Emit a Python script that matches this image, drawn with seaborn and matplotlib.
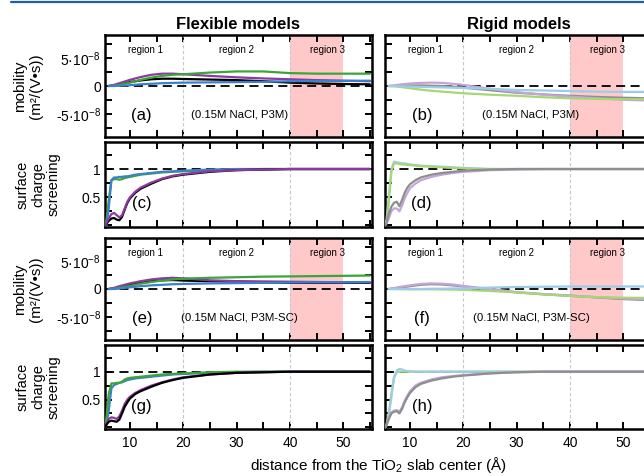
"""Mobility and surface charge screening vs distance from the TiO2 slab."""

import matplotlib
matplotlib.use("Agg")
import matplotlib.pyplot as plt
from matplotlib.lines import Line2D
from matplotlib.ticker import MultipleLocator
import seaborn as sns
import pandas as pd

# ---- data ----
# mobility in units of 1e-8 m^2/(V s)
X_MOB = [6, 7, 8, 10, 12, 14, 16, 18, 20, 25, 30, 35, 40, 45, 50, 55]

mob_a = {
    "black": [0, 0.1, 0.3, 0.7, 1.0, 1.2, 1.3, 1.3, 1.25, 1.15, 1.05, 0.85, 0.6, 0.45, 0.35, 0.3],
    "purple": [0, 0.2, 0.5, 1.1, 1.6, 2.0, 2.2, 2.2, 2.1, 1.8, 1.55, 1.35, 1.2, 1.05, 0.95, 0.85],
    "green": [0, 0.05, 0.2, 0.6, 1.1, 1.5, 1.8, 2.0, 2.1, 2.4, 2.6, 2.6, 2.3, 2.2, 2.2, 2.2],
    "blue": [0, 0, 0.05, 0.15, 0.3, 0.4, 0.5, 0.55, 0.6, 0.65, 0.7, 0.75, 0.85, 0.9, 0.9, 0.95],
}
mob_b = {
    "gray": [0, 0.02, 0.05, 0.1, 0.1, 0.05, 0, -0.1, -0.3, -0.75, -1.2, -1.5, -1.75, -1.95, -2.1, -2.2],
    "lpurple": [0, 0.1, 0.25, 0.45, 0.55, 0.6, 0.55, 0.4, 0.2, -0.5, -1.1, -1.55, -1.9, -2.2, -2.45, -2.6],
    "lgreen": [0, -0.05, -0.15, -0.4, -0.65, -0.85, -1.0, -1.15, -1.3, -1.55, -1.75, -2.0, -2.2, -2.3, -2.35, -2.35],
    "lblue": [0, 0, -0.05, -0.1, -0.15, -0.2, -0.25, -0.3, -0.35, -0.5, -0.7, -0.8, -0.9, -1.0, -1.05, -1.05],
}
mob_e = {
    "black": [0, 0.1, 0.3, 0.8, 1.1, 1.4, 1.55, 1.6, 1.5, 1.4, 1.3, 1.2, 1.1, 1.1, 1.1, 1.1],
    "purple": [0, 0.2, 0.5, 1.0, 1.4, 1.7, 1.9, 2.0, 1.9, 1.55, 1.4, 1.35, 1.3, 1.25, 1.2, 1.2],
    "green": [0, 0.05, 0.2, 0.55, 0.95, 1.25, 1.5, 1.7, 1.85, 2.0, 2.1, 2.2, 2.25, 2.3, 2.35, 2.4],
    "blue": [0, 0, 0.1, 0.3, 0.5, 0.65, 0.75, 0.85, 0.9, 1.0, 1.05, 1.1, 1.15, 1.2, 1.2, 1.25],
}
mob_f = {
    "gray": [0, 0.1, 0.25, 0.5, 0.75, 0.85, 0.8, 0.65, 0.45, -0.1, -0.6, -0.95, -1.2, -1.5, -1.8, -2.0],
    "lpurple": [0, 0.15, 0.35, 0.65, 0.9, 1.0, 0.95, 0.8, 0.55, 0, -0.55, -0.9, -1.15, -1.45, -1.7, -1.9],
    "lgreen": [0, 0, -0.02, -0.05, -0.05, -0.05, -0.08, -0.1, -0.15, -0.35, -0.6, -0.95, -1.25, -1.45, -1.55, -1.6],
    "lblue": [0, 0, 0, 0, 0, 0.05, 0.05, 0.1, 0.1, 0.25, 0.35, 0.4, 0.45, 0.45, 0.45, 0.45],
}

# surface charge screening
X_SCR = [5.3, 5.6, 6, 6.5, 7, 7.5, 8, 8.5, 9, 9.5, 10, 11, 12, 14, 16, 18, 20, 25, 30, 35, 40, 45, 50, 55]

scr_c = {
    "green": [0, 0.1, 0.45, 0.8, 0.82, 0.82, 0.81, 0.82, 0.84, 0.85, 0.86, 0.88, 0.9, 0.92, 0.94, 0.95, 0.96, 0.98, 0.99, 1.0, 1.0, 1.0, 1.0, 1.0],
    "blue": [0, 0, 0.3, 0.8, 0.85, 0.85, 0.86, 0.86, 0.87, 0.87, 0.88, 0.9, 0.91, 0.93, 0.95, 0.96, 0.97, 0.99, 1.0, 1.0, 1.0, 1.0, 1.0, 1.0],
    "black": [0, 0.03, 0.08, 0.12, 0.13, 0.1, 0.09, 0.15, 0.28, 0.4, 0.48, 0.58, 0.65, 0.74, 0.82, 0.87, 0.9, 0.95, 0.98, 0.99, 1.0, 1.0, 1.0, 1.0],
    "purple": [0, 0.05, 0.12, 0.2, 0.22, 0.18, 0.14, 0.18, 0.3, 0.42, 0.5, 0.6, 0.67, 0.76, 0.83, 0.88, 0.91, 0.96, 0.98, 0.99, 1.0, 1.0, 1.0, 1.0],
}
scr_d = {
    "lblue": [0, 0.1, 0.5, 1.0, 1.13, 1.12, 1.11, 1.1, 1.1, 1.09, 1.08, 1.07, 1.06, 1.05, 1.04, 1.03, 1.02, 1.0, 1.0, 1.0, 1.0, 1.0, 1.0, 1.0],
    "lgreen": [0, 0.05, 0.4, 0.95, 1.1, 1.1, 1.09, 1.08, 1.08, 1.07, 1.07, 1.06, 1.05, 1.04, 1.03, 1.02, 1.01, 1.0, 1.0, 1.0, 1.0, 1.0, 1.0, 1.0],
    "lpurple": [0, 0.03, 0.12, 0.25, 0.3, 0.3, 0.25, 0.35, 0.48, 0.58, 0.66, 0.74, 0.8, 0.86, 0.9, 0.93, 0.95, 0.98, 0.99, 1.0, 1.0, 1.0, 1.0, 1.0],
    "gray": [0, 0.05, 0.2, 0.33, 0.4, 0.42, 0.34, 0.45, 0.58, 0.67, 0.73, 0.8, 0.85, 0.9, 0.93, 0.95, 0.97, 0.99, 1.0, 1.0, 1.0, 1.0, 1.0, 1.0],
}
scr_g = {
    "blue": [0, 0.05, 0.3, 0.7, 0.76, 0.78, 0.8, 0.81, 0.83, 0.85, 0.86, 0.88, 0.89, 0.91, 0.93, 0.95, 0.96, 0.98, 0.99, 1.0, 1.0, 1.0, 1.0, 1.0],
    "green": [0, 0.2, 0.6, 0.79, 0.79, 0.8, 0.8, 0.82, 0.86, 0.88, 0.89, 0.9, 0.91, 0.93, 0.95, 0.96, 0.97, 0.99, 1.0, 1.0, 1.0, 1.0, 1.0, 1.0],
    "purple": [0, 0.08, 0.15, 0.18, 0.17, 0.15, 0.2, 0.3, 0.42, 0.5, 0.55, 0.62, 0.67, 0.75, 0.81, 0.86, 0.9, 0.95, 0.98, 0.99, 1.0, 1.0, 1.0, 1.0],
    "black": [0, 0.05, 0.1, 0.12, 0.11, 0.1, 0.14, 0.25, 0.37, 0.45, 0.52, 0.6, 0.65, 0.73, 0.8, 0.85, 0.89, 0.95, 0.98, 0.99, 1.0, 1.0, 1.0, 1.0],
}
scr_h = {
    "lgreen": [0, 0.05, 0.25, 0.6, 0.9, 0.99, 1.0, 1.0, 1.0, 1.0, 1.0, 1.0, 1.0, 1.0, 1.0, 1.0, 1.0, 1.0, 1.0, 1.0, 1.0, 1.0, 1.0, 1.0],
    "lblue": [0, 0.03, 0.2, 0.55, 0.9, 1.02, 1.05, 1.04, 1.02, 1.01, 1.01, 1.0, 1.0, 1.0, 1.0, 1.0, 1.0, 1.0, 1.0, 1.0, 1.0, 1.0, 1.0, 1.0],
    "lpurple": [0, 0.05, 0.15, 0.27, 0.3, 0.31, 0.28, 0.36, 0.48, 0.57, 0.65, 0.75, 0.8, 0.86, 0.9, 0.92, 0.94, 0.97, 0.99, 1.0, 1.0, 1.0, 1.0, 1.0],
    "gray": [0, 0.05, 0.15, 0.25, 0.28, 0.29, 0.25, 0.33, 0.45, 0.54, 0.62, 0.72, 0.78, 0.84, 0.88, 0.91, 0.93, 0.97, 0.99, 1.0, 1.0, 1.0, 1.0, 1.0],
}

PANEL_TAGS = ["(a)", "(b)", "(c)", "(d)", "(e)", "(f)", "(g)", "(h)"]
CONDITIONS = ["(0.15M NaCl, P3M)", "(0.15M NaCl, P3M-SC)"]
REGIONS = ["region 1", "region 2", "region 3"]
REGION_X = [12.9, 30, 47]

PALETTE = {
    "black": "#000000", "purple": "#8b3a9e", "green": "#3ca53a", "blue": "#3a80cc",
    "gray": "#8e8e8e", "lpurple": "#c3a5d8", "lgreen": "#a6d676", "lblue": "#9dcbea",
}

MOB_SCALE = 1e-8


def to_long(x, series, scale=1.0):
    rows = []
    for name, vals in series.items():
        for xv, yv in zip(x, vals):
            rows.append({"x": xv, "y": yv * scale, "model": name})
    return pd.DataFrame(rows)


sns.set_theme(style="ticks")
plt.rcParams["font.family"] = ["Liberation Sans", "DejaVu Sans"]
plt.rcParams["mathtext.fontset"] = "custom"
plt.rcParams["mathtext.rm"] = "Liberation Sans"
plt.rcParams["mathtext.it"] = "Liberation Sans:italic"
plt.rcParams["mathtext.bf"] = "Liberation Sans:bold"
for key in ("axes.edgecolor", "xtick.color", "ytick.color", "text.color",
            "axes.labelcolor"):
    plt.rcParams[key] = "black"

fig = plt.figure(figsize=(6.44, 4.76), dpi=100)
W, H = 644.0, 476.0


def add_ax(x0, y0, x1, y1):
    return fig.add_axes([x0 / W, 1 - y1 / H, (x1 - x0) / W, (y1 - y0) / H])


cols = [(105, 372), (385, 652)]
rows = [(35, 137), (142, 227), (238, 340), (345, 429)]
panels = [mob_a, mob_b, scr_c, scr_d, mob_e, mob_f, scr_g, scr_h]

axes = []
for i, data in enumerate(panels):
    r, c = divmod(i, 2)
    ax = add_ax(cols[c][0], rows[r][0], cols[c][1], rows[r][1])
    axes.append(ax)
    is_mob = r in (0, 2)

    ax.set_xlim(5.3, 55.4)
    for xv in (20, 40):
        ax.axvline(xv, color="#c8c8c8", lw=0.8, ls=(0, (3, 2)), zorder=1)

    if is_mob:
        ax.axvspan(40, 50, color="#ffc9c9", lw=0, zorder=0)
        df = to_long(X_MOB, data, MOB_SCALE)
        ax.axhline(0, color="black", lw=1.3, ls=(0, (5, 3)), zorder=2)
    else:
        df = to_long(X_SCR, data)
        ax.axhline(1, color="black", lw=1.3, ls=(0, (5, 3)), zorder=2)

    sns.lineplot(data=df, x="x", y="y", hue="model", palette=PALETTE,
                 ax=ax, legend=False, errorbar=None, lw=1.6, zorder=3)
    ax.set_xlabel("")
    ax.set_ylabel("")

    if is_mob:
        ax.set_ylim(-9.1e-8, 9.1e-8)
        ax.set_yticks([-5e-8, 0, 5e-8])
        ax.yaxis.set_minor_locator(MultipleLocator(2.5e-8))
        ax.set_yticklabels(["-5·10$^{-8}$", "0", "5·10$^{-8}$"] if c == 0 else [])
        for rx, lab in zip(REGION_X, REGIONS):
            ax.text(rx, 6.5e-8, lab, ha="center", va="center", fontsize=7)
        ax.text(12.2, -5.2e-8, PANEL_TAGS[i], ha="center", va="center", fontsize=12)
        ax.text(30.5 if c == 0 else 32.7, -5.2e-8, CONDITIONS[r // 2],
                ha="center", va="center", fontsize=8.2)
    else:
        ax.set_ylim(-0.03, 1.48)
        ax.set_yticks([0.5, 1])
        ax.yaxis.set_minor_locator(MultipleLocator(0.25))
        ax.set_yticklabels(["0.5", "1"] if c == 0 else [])
        ax.text(12.2, 0.38, PANEL_TAGS[i], ha="center", va="center", fontsize=12)

    ax.set_xticks([10, 20, 30, 40, 50])
    ax.xaxis.set_minor_locator(MultipleLocator(5))
    if r != 3:
        ax.set_xticklabels([])

    ax.tick_params(which="both", direction="in", top=True, right=True,
                   length=5, width=1.4, labelsize=10, pad=3)
    ax.tick_params(axis="x", labelsize=10, pad=5)
    for sp in ax.spines.values():
        sp.set_linewidth(1.8)

axes[0].set_title("Flexible models", fontsize=12, fontweight="bold", pad=4)
axes[1].set_title("Rigid models", fontsize=12, fontweight="bold", pad=4)

# row labels
for r in range(4):
    yc = 1 - (rows[r][0] + rows[r][1]) / 2 / H
    if r in (0, 2):
        fig.text(28 / W, yc, "mobility\n(m²/(V•s))", rotation=90, ha="center",
                 va="center", fontsize=11, multialignment="center", linespacing=1.15)
    else:
        fig.text(38 / W, yc, "surface\ncharge\nscreening", rotation=90, ha="center",
                 va="center", fontsize=10.5, multialignment="center", linespacing=1.1)

fig.text(378 / W, 1 - 465 / H, "distance from the TiO$_2$ slab center (Å)",
         ha="center", va="center", fontsize=11)

# page rule at the top
fig.add_artist(Line2D([11 / W, 1], [1 - 1.5 / H, 1 - 1.5 / H], color="#1b5ea9", lw=1.6))

fig.savefig("out.png", dpi=100)
